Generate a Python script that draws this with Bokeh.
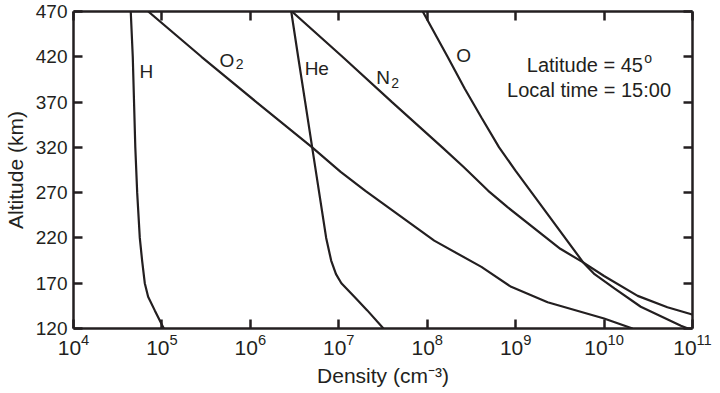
from bokeh.plotting import figure
from bokeh.models import LogAxis, LinearAxis, FixedTicker, Label, Range1d, CustomJSTickFormatter
from bokeh.embed import file_html
from bokeh.resources import INLINE

# ---- data ----
h_alt = [470, 420, 320, 270, 220, 195, 175, 170, 155, 140, 120]
h_den = [4.44e4, 4.68e4, 5.0e4, 5.25e4, 5.62e4, 5.97e4, 6.31e4, 6.4e4, 6.98e4, 8.3e4, 1.05e5]

he_alt = [470, 420, 370, 320, 270, 220, 195, 180, 170, 155, 140, 120]
he_den = [2.9e6, 3.47e6, 4.17e6, 5.0e6, 6.0e6, 7.2e6, 8.2e6, 9.3e6, 1.07e7, 1.5e7, 2.1e7, 3.2e7]

o2_alt = [470, 420, 370, 320, 293, 272, 217, 188, 166, 149, 131, 120]
o2_den = [7.0e4, 2.8e5, 1.17e6, 5.0e6, 1.05e7, 2.0e7, 1.2e8, 4.1e8, 8.9e8, 2.3e9, 1.0e10, 2.1e10]

n2_alt = [470, 420, 370, 320, 298, 272, 254, 208, 193, 178, 156, 143.5, 136, 128, 120]
n2_den = [2.95e6, 1.1e7, 4.0e7, 1.48e8, 2.6e8, 4.9e8, 8.1e8, 3.2e9, 5.8e9, 1.0e10, 2.4e10,
          5.2e10, 9.5e10, 1.6e11, 2.8e11]

o_alt = [470, 420, 385, 353, 320, 294, 261, 193, 180, 164, 144, 123, 120]
o_den = [8.9e7, 1.7e8, 2.65e8, 4.1e8, 6.5e8, 1.0e9, 1.78e9, 5.8e9, 7.8e9, 1.32e10, 2.6e10, 7.4e10, 8.9e10]

x_ticks = [1e4, 1e5, 1e6, 1e7, 1e8, 1e9, 1e10, 1e11]
y_ticks = [120, 170, 220, 270, 320, 370, 420, 470]

INK = "#231f20"
FONT = "Liberation Sans"

p = figure(width=720, height=393, x_axis_type="log",
           x_range=Range1d(1e4, 1e11), y_range=Range1d(120, 470),
           output_backend="svg", toolbar_location=None,
           min_border_left=72, min_border_right=28, min_border_top=11, min_border_bottom=65)
p.grid.visible = False
p.outline_line_color = None
p.background_fill_color = "white"
p.border_fill_color = "white"

for alt, den in [(h_alt, h_den), (he_alt, he_den), (o2_alt, o2_den), (n2_alt, n2_den), (o_alt, o_den)]:
    p.line(den, alt, line_color=INK, line_width=2.2)

def style(ax, labels=True):
    ax.axis_line_color = INK
    ax.axis_line_width = 2.5
    ax.major_tick_line_color = INK
    ax.major_tick_line_width = 2.5
    ax.major_tick_in = 9
    ax.major_tick_out = 0
    ax.minor_tick_line_color = None
    ax.major_label_text_font = FONT
    ax.major_label_text_color = INK
    ax.major_label_text_font_size = "19px"
    if not labels:
        ax.formatter = CustomJSTickFormatter(code="return '';")
        ax.major_label_standoff = 0

xa = p.xaxis[0]
xa.ticker = FixedTicker(ticks=x_ticks)
style(xa)
xa.major_label_text_font_size = "21px"
xa.major_label_standoff = 5
xa.axis_label = "Density (cm\u207b\u00b3)"
xa.axis_label_text_font = FONT
xa.axis_label_text_font_style = "normal"
xa.axis_label_text_font_size = "21px"
xa.axis_label_text_color = INK
xa.axis_label_standoff = 6

ya = p.yaxis[0]
ya.ticker = FixedTicker(ticks=y_ticks)
style(ya)
ya.major_label_standoff = 6
ya.axis_label = "Altitude (km)"
ya.axis_label_text_font = FONT
ya.axis_label_text_font_style = "normal"
ya.axis_label_text_font_size = "21px"
ya.axis_label_text_color = INK
ya.axis_label_standoff = 6

top = LogAxis(ticker=FixedTicker(ticks=x_ticks))
style(top, labels=False)
p.add_layout(top, "above")
right = LinearAxis(ticker=FixedTicker(ticks=y_ticks))
style(right, labels=False)
p.add_layout(right, "right")

def lab(x, y, t, size="19px", align="left"):
    p.add_layout(Label(x=x, y=y, text=t, text_font=FONT, text_font_size=size,
                       text_color=INK, text_align=align, text_baseline="alphabetic"))

lab(10**4.746, 403.5, "H")
lab(10**5.65, 416, "O")
lab(10**5.834, 412.5, "2", size="14px")
lab(10**6.614, 407, "He")
lab(10**7.424, 397.5, "N")
lab(10**7.593, 391.5, "2", size="14px")
lab(10**8.328, 421, "O")
lab(10**10.44, 411, "Latitude = 45", size="20px", align="right")
lab(10**10.455, 418.5, "o", size="14px")
lab(10**9.83, 383.5, "Local time = 15:00", size="20px", align="center")

open("out.html", "w").write(file_html(p, INLINE))
